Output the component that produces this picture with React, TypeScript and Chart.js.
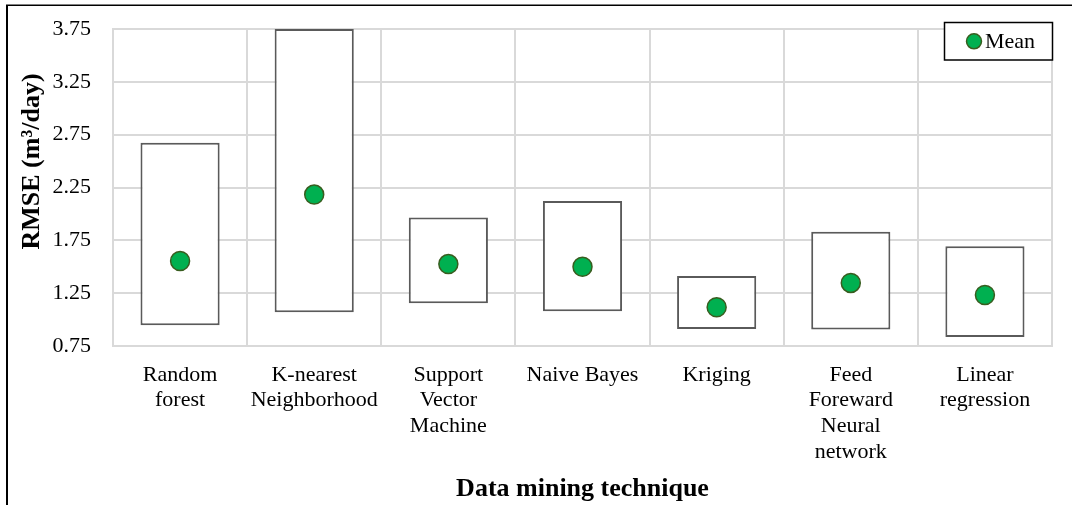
import React, { useEffect, useRef } from "react";
import { Chart, registerables } from "chart.js";

Chart.register(...registerables);

// ---- data ----
const categories: (string | string[])[] = [
  ["Random", "forest"],
  ["K-nearest", "Neighborhood"],
  ["Support", "Vector", "Machine"],
  "Naive Bayes",
  "Kriging",
  ["Feed", "Foreward", "Neural", "network"],
  ["Linear", "regression"],
];
const rangeMin = [0.947, 1.07, 1.155, 1.08, 0.91, 0.905, 0.836];
const rangeMax = [2.674, 3.75, 1.965, 2.122, 1.413, 1.832, 1.695];
const meanValues = [1.555, 2.183, 1.525, 1.5, 1.117, 1.347, 1.233];
const yTickValues = [0.75, 1.25, 1.75, 2.25, 2.75, 3.25, 3.75];
const meanLabel = "Mean";
const rangeLabel = "Range";
const xTitle = "Data mining technique";
const yTitle = "RMSE (m³/day)";

const FONT = "'Liberation Serif', 'Times New Roman', Times, serif";

const frameAndLegend = {
  id: "frameAndLegend",
  afterDraw(chart: any) {
    const ctx = chart.ctx as CanvasRenderingContext2D;
    ctx.save();
    // outer frame (top and left edges visible)
    ctx.strokeStyle = "#000";
    ctx.lineWidth = 2;
    ctx.beginPath();
    ctx.moveTo(7, 505);
    ctx.lineTo(7, 5);
    ctx.stroke();
    ctx.lineWidth = 1.5;
    ctx.beginPath();
    ctx.moveTo(6, 5.25);
    ctx.lineTo(1072, 5.25);
    ctx.stroke();

    // y-axis title (positioned like the original, above the plot centre)
    ctx.save();
    ctx.translate(32, 161.5);
    ctx.rotate(-Math.PI / 2);
    ctx.fillStyle = "#000";
    ctx.font = `bold 26px ${FONT}`;
    ctx.textAlign = "center";
    ctx.textBaseline = "middle";
    ctx.fillText(yTitle, 0, 0);
    ctx.restore();

    // legend box
    const ds = chart.data.datasets.find((d: any) => d.label === meanLabel);
    const bx = 944.5, by = 22.5, bw = 108, bh = 37.5;
    ctx.fillStyle = "#fff";
    ctx.fillRect(bx, by, bw, bh);
    ctx.strokeStyle = "#000";
    ctx.lineWidth = 1.5;
    ctx.strokeRect(bx, by, bw, bh);
    // marker
    ctx.beginPath();
    ctx.arc(974, 41.3, 7.5, 0, Math.PI * 2);
    ctx.fillStyle = ds.backgroundColor;
    ctx.fill();
    ctx.lineWidth = 1.5;
    ctx.strokeStyle = ds.borderColor;
    ctx.stroke();
    // text
    ctx.fillStyle = "#000";
    ctx.font = `22px ${FONT}`;
    ctx.textBaseline = "alphabetic";
    ctx.textAlign = "left";
    ctx.fillText(ds.label, 985, 48);
    ctx.restore();
  },
};

export default function App() {
  const canvasRef = useRef<HTMLCanvasElement | null>(null);

  useEffect(() => {
    const canvas = canvasRef.current;
    if (!canvas) return;
    const chart = new Chart(canvas, {
      type: "bar",
      data: {
        labels: categories,
        datasets: [
          {
            type: "line",
            label: meanLabel,
            data: meanValues,
            showLine: false,
            pointRadius: 9.5,
            pointHoverRadius: 9.5,
            pointBorderWidth: 1.5,
            backgroundColor: "#00B050",
            borderColor: "#385D1F",
            order: 0,
          } as any,
          {
            type: "bar",
            label: rangeLabel,
            data: rangeMin.map((v, i) => [v, rangeMax[i]]),
            backgroundColor: "#FFFFFF",
            borderColor: "#5A5A5A",
            borderWidth: 2,
            borderSkipped: false,
            barPercentage: 0.59,
            categoryPercentage: 1,
            order: 1,
          } as any,
        ],
      },
      options: {
        responsive: false,
        animation: false,
        devicePixelRatio: 1,
        layout: { padding: { left: 0, top: 29, right: 20, bottom: 0 } },
        plugins: {
          legend: { display: false },
          tooltip: { enabled: false },
        },
        scales: {
          x: {
            grid: {
              color: "#D9D9D9",
              lineWidth: 2,
              drawTicks: false,
              offset: true,
            },
            border: { color: "#D9D9D9", width: 2 },
            ticks: {
              color: "#000",
              font: { family: FONT, size: 22, lineHeight: 1.17 },
              padding: 16,
              maxRotation: 0,
              autoSkip: false,
            },
            title: {
              display: true,
              text: xTitle,
              color: "#000",
              font: { family: FONT, size: 26, weight: "bold", lineHeight: 1.2 },
              padding: { top: 0, bottom: 0 },
            },
            afterFit(scale: any) {
              scale.height = 159;
              scale.paddingLeft = 0;
              scale.paddingRight = 0;
            },
          },
          y: {
            min: 0.75,
            max: 3.75,
            afterBuildTicks(scale: any) {
              scale.ticks = yTickValues.map((v) => ({ value: v }));
            },
            grid: {
              color: "#D9D9D9",
              lineWidth: 2,
              drawTicks: false,
            },
            border: { color: "#D9D9D9", width: 2 },
            ticks: {
              color: "#000",
              font: { family: FONT, size: 22 },
              padding: 22,
              callback: (v: any) => Number(v).toFixed(2),
            },
            title: { display: false },
            afterFit(scale: any) {
              scale.width = 113;
              scale.paddingTop = 0;
              scale.paddingBottom = 0;
            },
          },
        },
      },
      plugins: [frameAndLegend],
    });
    return () => chart.destroy();
  }, []);

  return (
    <div style={{ position: "fixed", left: 0, top: 0, width: 1072, height: 505, background: "#fff" }}>
      <canvas ref={canvasRef} width={1072} height={505} style={{ display: "block" }} />
    </div>
  );
}
